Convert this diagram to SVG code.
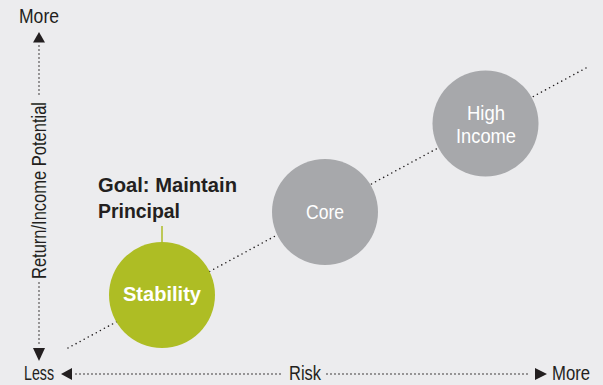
<svg xmlns="http://www.w3.org/2000/svg" width="603" height="385" viewBox="0 0 603 385">
<style>
.t{font-family:"Liberation Sans",Arial,sans-serif;font-size:19.5px;fill:#231f20}
.b{font-weight:bold;font-size:20.5px}
.w{fill:#ffffff}
.dot{fill:none;stroke:#231f20;stroke-width:1.6;stroke-linecap:round;stroke-dasharray:0 4}
.dd{fill:none;stroke:#231f20;stroke-width:1.6;stroke-linecap:round;stroke-dasharray:0 4.6}
.ah{fill:#231f20}
</style>
<rect width="603" height="385" fill="#ececee"/>
<g id="connectors">
<line class="dd" x1="68" y1="348" x2="586" y2="68"/>
<line class="dot" x1="39" y1="46" x2="39" y2="98"/>
<line class="dot" x1="39" y1="283" x2="39" y2="345"/>
<polygon class="ah" points="39,32 45,42.5 33,42.5"/>
<polygon class="ah" points="39,361 45,348 33,348"/>
<line class="dot" x1="76" y1="374" x2="284" y2="374"/>
<line class="dot" x1="327" y1="374" x2="531" y2="374"/>
<polygon class="ah" points="61,374 72,368 72,380"/>
<polygon class="ah" points="547,374 535,368 535,380"/>
<line x1="162" y1="226" x2="162" y2="243" stroke="#aebd24" stroke-width="1.5"/>
</g>
<g id="axis-labels">
<text class="t" x="39" y="23" text-anchor="middle" textLength="40" lengthAdjust="spacingAndGlyphs">More</text>
<text class="t" x="24" y="380" textLength="30" lengthAdjust="spacingAndGlyphs">Less</text>
<text class="t" x="289" y="380" textLength="32" lengthAdjust="spacingAndGlyphs">Risk</text>
<text class="t" x="552" y="380" textLength="38" lengthAdjust="spacingAndGlyphs">More</text>
<text class="t" transform="translate(46,190.5) rotate(-90)" text-anchor="middle" textLength="177" lengthAdjust="spacingAndGlyphs">Return/Income Potential</text>
</g>
<g id="goal">
<text class="t b" x="98" y="192" textLength="139" lengthAdjust="spacingAndGlyphs">Goal: Maintain</text>
<text class="t b" x="98" y="218" textLength="82" lengthAdjust="spacingAndGlyphs">Principal</text>
</g>
<g id="stability">
<circle cx="162" cy="295" r="53" fill="#aebd24"/>
<text class="t b w" x="162" y="301" text-anchor="middle" textLength="78" lengthAdjust="spacingAndGlyphs">Stability</text>
</g>
<g id="core">
<circle cx="325" cy="212" r="53" fill="#a7a8ab"/>
<text class="t w" x="325" y="219" text-anchor="middle" textLength="38" lengthAdjust="spacingAndGlyphs">Core</text>
</g>
<g id="high-income">
<circle cx="485.5" cy="123.5" r="53" fill="#a7a8ab"/>
<text class="t w" x="486" y="120" text-anchor="middle" textLength="38" lengthAdjust="spacingAndGlyphs">High</text>
<text class="t w" x="486" y="143" text-anchor="middle" textLength="60" lengthAdjust="spacingAndGlyphs">Income</text>
</g>
</svg>
